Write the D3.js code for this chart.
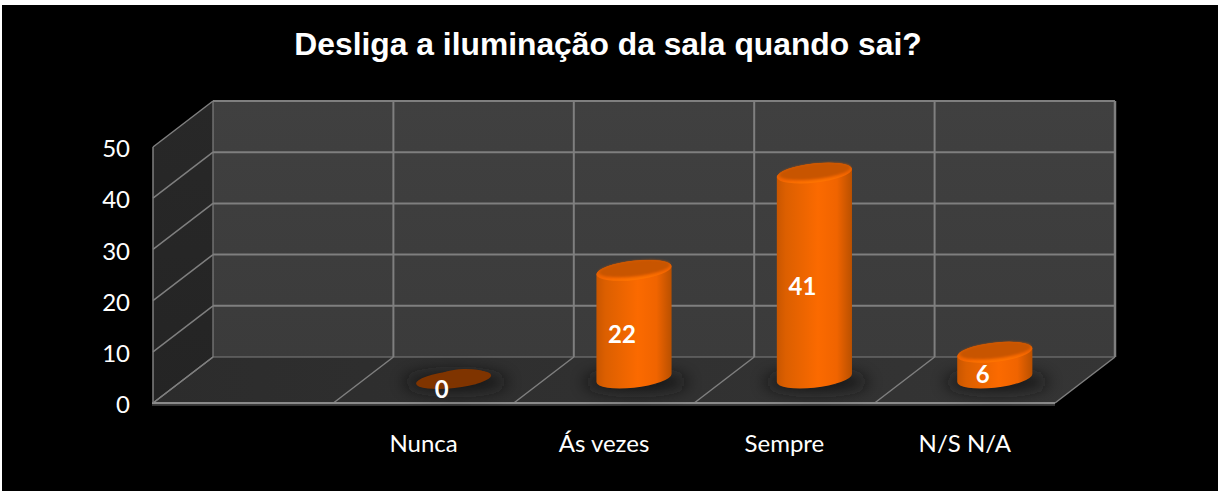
<!DOCTYPE html>
<html>
<head>
<meta charset="utf-8">
<title>Desliga a iluminação da sala quando sai?</title>
<script src="https://cdnjs.cloudflare.com/ajax/libs/d3/7.8.5/d3.min.js"></script>
<style>
    html, body { margin: 0; padding: 0; background: #fff; overflow: hidden; }
    svg { display: block; }
</style>
</head>
<body>
<div id="chart"></div>
<script>
const title = "Desliga a iluminação da sala quando sai?";
const categories = ["", "Nunca", "Ás vezes", "Sempre", "N/S N/A"];
const values = [null, 0, 22, 41, 6];
const y_ticks = [0, 10, 20, 30, 40, 50];

const width = 1218, height = 491;
// the 3d box: front face and back wall are the same plot shifted by depth
const depth_x = 60, depth_y = 46;
const left = 153, right = 1055, bottom = 403, top_y = 147;

const svg = d3.select("#chart").append("svg")
    .attr("width", width)
    .attr("height", height);

const defs = svg.append("defs");

function add_gradient(id, x2, y2, stops) {
    const g = defs.append("linearGradient")
        .attr("id", id)
        .attr("x1", 0).attr("y1", 0)
        .attr("x2", x2).attr("y2", y2);
    stops.forEach(function (s) {
        g.append("stop").attr("offset", s[0]).attr("stop-color", s[1]);
    });
}

add_gradient("side", 1, 0, [[0, "#c95600"], [0.12, "#dc5f00"], [0.55, "#fb6a00"], [0.8, "#f06400"], [1, "#b95000"]]);
add_gradient("rim", 0, 1, [[0, "#d65a00"], [0.7, "#f26400"], [1, "#ff7400"]]);
add_gradient("floor", 1, 0, [[0, "#2c2c2c"], [1, "#353535"]]);
add_gradient("wall", 0, 1, [[0, "#404040"], [1, "#3b3b3b"]]);
add_gradient("side_wall", 0, 1, [[0, "#282828"], [1, "#242424"]]);

defs.append("filter").attr("id", "shadow_blur")
    .attr("x", "-40%").attr("y", "-100%").attr("width", "180%").attr("height", "300%")
    .append("feGaussianBlur").attr("stdDeviation", 8);
defs.append("filter").attr("id", "lid_blur")
    .append("feGaussianBlur").attr("stdDeviation", 1);

svg.append("rect")
    .attr("x", 2).attr("y", 5)
    .attr("width", width - 2).attr("height", height - 5)
    .attr("fill", "#000");

// scales
const x_front = d3.scaleBand().domain(categories).range([left, right]);
const x_back = d3.scaleBand().domain(categories).range([left + depth_x, right + depth_x]);
const y_front = d3.scaleLinear().domain([0, 50]).range([bottom, top_y]);
const y_back = d3.scaleLinear().domain([0, 50]).range([bottom - depth_y, top_y - depth_y]);
// bars stand in the middle of the floor
const x_bar = d3.scaleBand().domain(categories).range([left + depth_x / 2, right + depth_x / 2]);
const y_bar = d3.scaleLinear().domain([0, 50]).range([383, 127]);
const y_label = d3.scaleLinear().domain([0, 50]).range([390, 264]);

// box faces
const box = svg.append("g");
box.append("polygon")
    .attr("points", [[left, y_front(0)], [x_back.range()[0], y_back(0)], [x_back.range()[0], y_back(50)], [left, y_front(50)]].join(" "))
    .attr("fill", "url(#side_wall)");
box.append("rect")
    .attr("x", left + depth_x).attr("y", y_back(50))
    .attr("width", right - left).attr("height", y_back(0) - y_back(50))
    .attr("fill", "url(#wall)");
box.append("polygon")
    .attr("points", [[left, y_front(0)], [right, y_front(0)], [right + depth_x, y_back(0)], [left + depth_x, y_back(0)]].join(" "))
    .attr("fill", "url(#floor)");

// grid lines on the two walls
const grid_color = "#7f7f7f";
box.selectAll("line.wall-h")
    .data(y_ticks.slice(1))
    .join("line")
    .attr("class", "wall-h")
    .attr("x1", left + depth_x).attr("x2", right + depth_x)
    .attr("y1", d => y_back(d)).attr("y2", d => y_back(d))
    .attr("stroke", grid_color).attr("stroke-width", 2);
box.append("line")
    .attr("x1", left + depth_x).attr("x2", right + depth_x)
    .attr("y1", y_back(0)).attr("y2", y_back(0))
    .attr("stroke", grid_color).attr("stroke-width", 1.2);
box.selectAll("line.side-h")
    .data(y_ticks)
    .join("line")
    .attr("class", "side-h")
    .attr("x1", left).attr("x2", left + depth_x)
    .attr("y1", d => y_front(d)).attr("y2", d => y_back(d))
    .attr("stroke", grid_color).attr("stroke-width", 1.5);

// one vertical on the back wall and one floor line per category edge
const edges = categories.map(d => x_front(d) + x_front.bandwidth() - left);
edges.unshift(0);
box.selectAll("line.wall-v")
    .data(edges)
    .join("line")
    .attr("class", "wall-v")
    .attr("x1", d => left + depth_x + d).attr("x2", d => left + depth_x + d)
    .attr("y1", y_back(50)).attr("y2", y_back(0))
    .attr("stroke", grid_color)
    .attr("stroke-width", (d, i) => (i === 0 ? 1.2 : i === edges.length - 1 ? 2.5 : 2));
box.selectAll("line.floor-v")
    .data(edges)
    .join("line")
    .attr("class", "floor-v")
    .attr("x1", d => left + d).attr("x2", d => left + depth_x + d)
    .attr("y1", y_front(0)).attr("y2", y_back(0))
    .attr("stroke", grid_color).attr("stroke-width", 1.5);

// front edges of the box
box.append("rect")
    .attr("x", left - 1).attr("y", y_front(0) - 1)
    .attr("width", right - left + 1).attr("height", 2.5)
    .attr("fill", "#8a8a8a");
box.append("rect")
    .attr("x", left - 1).attr("y", y_front(0) + 1.5)
    .attr("width", right - left + 1).attr("height", 1.5)
    .attr("fill", "#333");
box.append("line")
    .attr("x1", left).attr("x2", left)
    .attr("y1", y_front(50)).attr("y2", y_front(0))
    .attr("stroke", grid_color).attr("stroke-width", 1.5);

// cylinders
const bar_data = categories
    .map((c, i) => ({category: c, value: values[i]}))
    .filter(d => d.value !== null);

const rx = 37.8, ry = 9.6, tilt = -6.5, base_y = 378;
const rad = tilt * Math.PI / 180;
// horizontal extremes of the tilted ellipse
const half_w = Math.sqrt(rx * rx * Math.cos(rad) ** 2 + ry * ry * Math.sin(rad) ** 2);
const tip_y = (rx * rx - ry * ry) * Math.sin(rad) * Math.cos(rad) / half_w;

function bar_center(d) {
    return x_bar(d.category) + x_bar.bandwidth() / 2;
}

function cylinder_path(cx, y_top) {
    const a = `${rx} ${ry} ${tilt}`;
    return `M${cx - half_w},${y_top - tip_y}` +
        `L${cx - half_w},${base_y - tip_y}` +
        `A${a} 0 0 ${cx + half_w},${base_y + tip_y}` +
        `L${cx + half_w},${y_top + tip_y}` +
        `A${a} 0 0 ${cx - half_w},${y_top - tip_y}Z`;
}

const bars = svg.selectAll("g.bar")
    .data(bar_data)
    .join("g")
    .attr("class", "bar");

bars.append("ellipse")
    .attr("cx", d => bar_center(d) + 2)
    .attr("cy", 382)
    .attr("rx", 52)
    .attr("ry", 10)
    .attr("fill", "#141414")
    .attr("opacity", 0.85)
    .attr("filter", "url(#shadow_blur)");

const standing = bars.filter(d => d.value > 0);

standing.append("path")
    .attr("d", d => cylinder_path(bar_center(d), y_bar(d.value)))
    .attr("fill", "url(#side)");

standing.append("ellipse")
    .attr("rx", rx).attr("ry", ry)
    .attr("transform", d => `translate(${bar_center(d)},${y_bar(d.value)}) rotate(${tilt})`)
    .attr("fill", "url(#rim)");

standing.append("ellipse")
    .attr("rx", rx - 2).attr("ry", ry - 2)
    .attr("transform", d => `translate(${bar_center(d) + 0.5},${y_bar(d.value) - 1.8}) rotate(${tilt})`)
    .attr("fill", "#c85500")
    .attr("filter", "url(#lid_blur)");

// the zero bar is only a flat dark disc
const flat = bars.filter(d => d.value === 0);
flat.append("ellipse")
    .attr("rx", rx).attr("ry", 8.5)
    .attr("transform", d => `translate(${bar_center(d)},379.5) rotate(${tilt})`)
    .attr("fill", "#7f3400");
flat.append("ellipse")
    .attr("rx", 25).attr("ry", 7.5)
    .attr("transform", d => `translate(${bar_center(d) + 10},376.5) rotate(-2)`)
    .attr("fill", "#7f3400");

bars.append("text")
    .attr("x", d => x_front(d.category) + x_front.bandwidth() / 2 + 18)
    .attr("y", d => y_label(d.value))
    .attr("dy", "0.35em")
    .attr("text-anchor", "middle")
    .attr("font-family", "Lato, sans-serif")
    .attr("font-weight", "bold")
    .attr("font-size", 24)
    .attr("fill", "#fff")
    .text(d => d.value);

// axes
const y_axis = svg.append("g")
    .attr("transform", `translate(${left},2)`)
    .call(d3.axisLeft(y_front).tickValues(y_ticks).tickSize(0).tickPadding(23));
const x_axis = svg.append("g")
    .attr("transform", `translate(0,${bottom})`)
    .call(d3.axisBottom(x_front).tickSize(0).tickPadding(32));

[y_axis, x_axis].forEach(function (axis) {
    axis.select(".domain").remove();
    axis.selectAll("text")
        .attr("font-family", "Lato, sans-serif")
        .attr("font-size", 24)
        .attr("fill", "#fff");
});

svg.append("text")
    .attr("x", 608)
    .attr("y", 55)
    .attr("text-anchor", "middle")
    .attr("font-family", "'Liberation Sans', Arial, sans-serif")
    .attr("font-weight", "bold")
    .attr("font-size", 31.8)
    .attr("fill", "#fff")
    .text(title);
</script>
</body>
</html>
